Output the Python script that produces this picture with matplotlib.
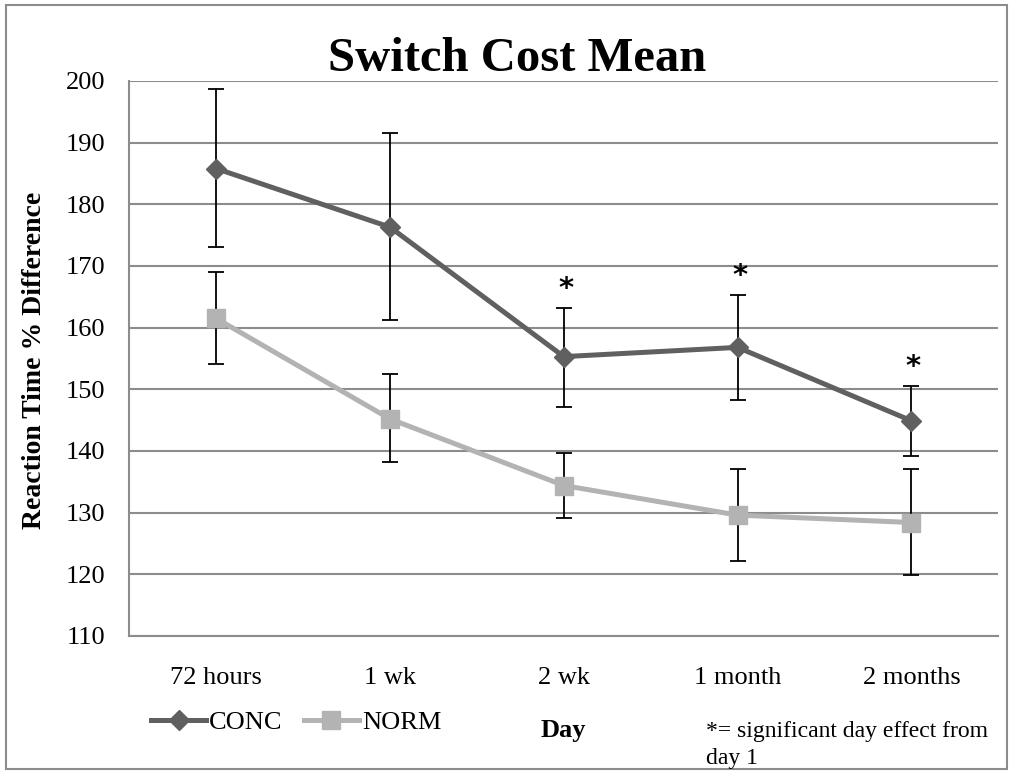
import matplotlib
matplotlib.use("Agg")
import matplotlib.pyplot as plt
from matplotlib.lines import Line2D
from matplotlib.patches import Rectangle
import numpy as np

plt.rcParams['font.family'] = ['Liberation Serif', 'DejaVu Serif']

categories = ["72 hours", "1 wk", "2 wk", "1 month", "2 months"]

conc_mean = [185.8, 176.3, 155.3, 156.8, 144.9]
conc_upper = [198.7, 191.5, 163.2, 165.3, 150.5]
conc_lower = [173.0, 161.2, 147.2, 148.2, 139.2]

norm_mean = [161.5, 145.2, 134.4, 129.6, 128.4]
norm_upper = [169.0, 152.5, 139.7, 137.0, 137.0]
norm_lower = [154.1, 138.2, 129.1, 122.2, 119.9]

significant = [False, False, True, True, True]

y_ticks = [110, 120, 130, 140, 150, 160, 170, 180, 190, 200]

conc_color = "#606060"
norm_color = "#b3b3b3"
grid_color = "#8c8c8c"

fig = plt.figure(figsize=(10.13, 7.72), dpi=100)
ax = fig.add_axes([0.1276, 0.1762, 0.8579, 0.7189])

x = np.arange(len(categories))

def err(mean, upper, lower):
    m = np.array(mean)
    return np.vstack([m - np.array(lower), np.array(upper) - m])

ax.errorbar(x, norm_mean, yerr=err(norm_mean, norm_upper, norm_lower),
            fmt='none', ecolor='black', elinewidth=1.3, capsize=5.5,
            capthick=1.3, zorder=3)
ax.errorbar(x, conc_mean, yerr=err(conc_mean, conc_upper, conc_lower),
            fmt='none', ecolor='black', elinewidth=1.3, capsize=5.5,
            capthick=1.3, zorder=3)

ax.plot(x, norm_mean, color=norm_color, lw=3.6, marker='s', ms=13,
        markeredgecolor=norm_color, zorder=4)
ax.plot(x, conc_mean, color=conc_color, lw=3.6, marker='D', ms=10,
        markeredgecolor=conc_color, zorder=5)

# significance markers above the upper error caps
for xi, sig, top in zip(x, significant, conc_upper):
    if sig:
        ax.annotate("*", xy=(xi, top), xytext=(1.5, 8), textcoords='offset points',
                    ha='center', va='baseline', fontsize=21, color='black',
                    family='DejaVu Sans', fontweight='bold')

ax.set_xlim(-0.5, len(categories) - 0.5)
ax.set_ylim(110, 200)
ax.set_yticks(y_ticks)
ax.set_xticks(x)
ax.set_xticklabels(categories)
ax.tick_params(axis='both', length=0, labelsize=19)
ax.tick_params(axis='x', pad=22)
ax.tick_params(axis='y', pad=17)

ax.yaxis.grid(True, color=grid_color, lw=1.5)
ax.set_axisbelow(True)
for side in ['top', 'right']:
    ax.spines[side].set_visible(False)
for side in ['left', 'bottom']:
    ax.spines[side].set_color(grid_color)
    ax.spines[side].set_linewidth(1.5)

fig.text(0.510, 1 - 71 / 772, "Switch Cost Mean", ha='center', va='baseline',
         fontsize=35, fontweight='bold')
fig.text(35 / 1013, 1 - 360 / 772, "Reaction Time % Difference", rotation=90,
         ha='center', va='center', fontsize=20, fontweight='bold')
fig.text(563 / 1013, 1 - 730 / 772, "Day", ha='center', va='center',
         fontsize=19, fontweight='bold')
fig.text(706 / 1013, 1 - 745 / 772, "*= significant day effect from\nday 1",
         ha='left', va='center', fontsize=17, linespacing=1.35)

handles = [
    Line2D([], [], color=conc_color, lw=3.6, marker='D', ms=10,
           markeredgecolor=conc_color),
    Line2D([], [], color=norm_color, lw=3.6, marker='s', ms=13,
           markeredgecolor=norm_color),
]
fig.legend(handles, ["CONC", "NORM"], loc='center left',
           bbox_to_anchor=(151 / 1013, 1 - 722 / 772), ncol=2, frameon=False,
           fontsize=19, handlelength=2.1, handletextpad=0.1,
           columnspacing=0.8, borderpad=0, borderaxespad=0)

fig.patches.append(Rectangle((6 / 1013, 1 - 769 / 772), 1001 / 1013, 764 / 772,
                             transform=fig.transFigure, fill=False,
                             edgecolor=grid_color, lw=1.5))

fig.savefig("out.png", dpi=100)
